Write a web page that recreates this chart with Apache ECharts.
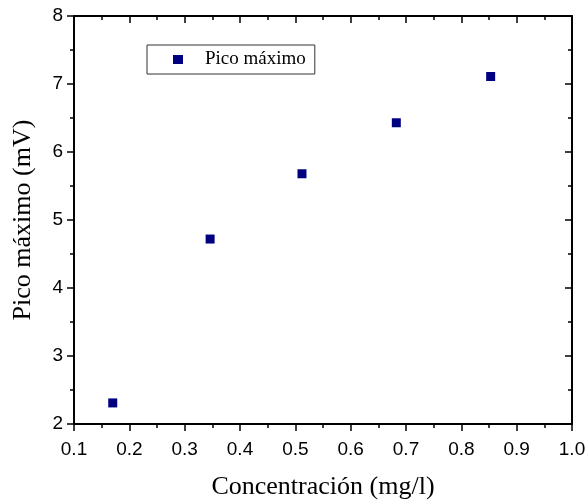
<!DOCTYPE html>
<html>
<head>
<meta charset="utf-8">
<script src="https://cdn.jsdelivr.net/npm/echarts@6/dist/echarts.min.js"></script>
<style>
  html, body { margin: 0; padding: 0; background: #fff; }
  #chart { width: 587px; height: 502px; }
</style>
</head>
<body>
<div id="chart"></div>
<script>
// concentration (mg/l) and peak maximum (mV)
const concentracion = [0.170, 0.346, 0.512, 0.6825, 0.853];
const picoMaximo = [2.31, 4.72, 5.68, 6.43, 7.11];
const seriesName = "Pico máximo";

const sans = "Liberation Sans";
const serif = "Liberation Serif";

const axisLine = { show: true, onZero: false, lineStyle: { color: "#000", width: 2 } };
const tickStyle = { color: "#000", width: 1.5 };

const chart = echarts.init(document.getElementById("chart"));
chart.setOption({
  animation: false,
  grid: { left: 74, top: 16, right: 15, bottom: 78, outerBoundsMode: "none", containLabel: false },
  legend: {
    data: [{ name: seriesName, icon: "rect" }],
    left: 147,
    top: 45,
    orient: "horizontal",
    itemWidth: 10,
    itemHeight: 9,
    padding: [5, 9, 5, 26],
    borderColor: "#333",
    borderWidth: 1,
    borderRadius: 0,
    textStyle: {
      fontFamily: serif,
      fontSize: 19,
      color: "#000",
      padding: [0, 0, 0, 17],
    },
  },
  xAxis: [
    {
      type: "value",
      min: 0.1,
      max: 1.0,
      interval: 0.1,
      name: "Concentración (mg/l)",
      nameLocation: "middle",
      nameGap: 50,
      nameTextStyle: { fontFamily: serif, fontSize: 26, color: "#000" },
      axisLine: axisLine,
      axisTick: { show: true, inside: false, length: 7, lineStyle: tickStyle },
      minorTick: { show: true, splitNumber: 2, length: 4, lineStyle: tickStyle },
      axisLabel: {
        fontFamily: sans,
        fontSize: 19,
        color: "#000",
        margin: 16,
        formatter: (v) => v.toFixed(1),
      },
      splitLine: { show: false },
    },
    {
      type: "value",
      position: "top",
      min: 0.1,
      max: 1.0,
      interval: 0.1,
      axisLine: axisLine,
      axisTick: { show: true, inside: true, length: 7, lineStyle: tickStyle },
      minorTick: { show: true, splitNumber: 2, length: 4, lineStyle: tickStyle },
      axisLabel: { show: false },
      splitLine: { show: false },
    },
  ],
  yAxis: [
    {
      type: "value",
      min: 2,
      max: 8,
      interval: 1,
      name: "Pico máximo (mV)",
      nameLocation: "middle",
      nameGap: 38,
      nameTextStyle: { fontFamily: serif, fontSize: 26, color: "#000" },
      axisLine: axisLine,
      axisTick: { show: true, inside: false, length: 7, lineStyle: tickStyle },
      minorTick: { show: true, splitNumber: 2, length: 4, lineStyle: tickStyle },
      axisLabel: { fontFamily: sans, fontSize: 19, color: "#000", margin: 11 },
      splitLine: { show: false },
    },
    {
      type: "value",
      position: "right",
      min: 2,
      max: 8,
      interval: 1,
      axisLine: axisLine,
      axisTick: { show: true, inside: true, length: 7, lineStyle: tickStyle },
      minorTick: { show: true, splitNumber: 2, length: 4, lineStyle: tickStyle },
      axisLabel: { show: false },
      splitLine: { show: false },
    },
  ],
  series: [
    {
      name: seriesName,
      type: "scatter",
      symbol: "rect",
      symbolSize: 9,
      itemStyle: { color: "#000080", opacity: 1 },
      data: concentracion.map((x, i) => [x, picoMaximo[i]]),
    },
  ],
});
</script>
</body>
</html>
